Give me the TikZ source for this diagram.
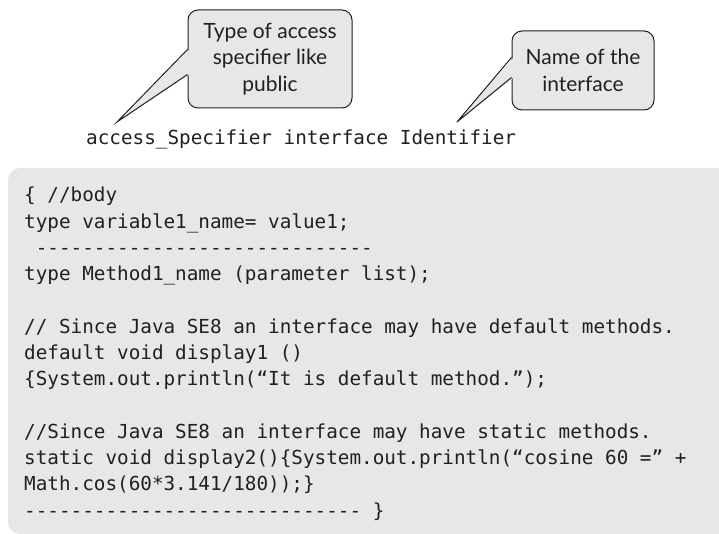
\documentclass[tikz,border=0pt]{standalone}
\usepackage{fontspec}
\setmonofont{DejaVu Sans Mono}
\newfontfamily\callfont{Lato}
\usetikzlibrary{calc}
\definecolor{codebg}{RGB}{230,231,232}
\definecolor{callfill}{RGB}{230,231,232}
\definecolor{ink}{RGB}{35,31,32}
\tikzset{
  codeline/.style={font=\ttfamily\fontsize{19.3}{26.25}\selectfont, anchor=base west, inner sep=0pt, text=ink},
  callbox/.style={draw=ink, line width=1pt, fill=callfill, rounded corners=10pt, align=center, inner sep=0pt,
    font=\callfont\fontsize{21}{26.5}\selectfont, text=ink},
  pointer/.style={draw=ink, line width=1pt, line join=miter},
}
\begin{document}
\begin{tikzpicture}[x=1pt,y=-1pt]
\useasboundingbox (0,0) rectangle (719,534);
\clip (0,0) rectangle (719,534);
% code box
\fill[codebg, rounded corners=12pt] (8,168) rectangle (760,534);
% callouts
\node[callbox, minimum width=164pt, minimum height=98pt] (c1) at (270,59) {Type of access\\specifier like\\public};
\node[callbox, minimum width=142pt, minimum height=79pt] (c2) at (583,70.5) {Name of the\\interface};
\coordinate (t1) at (117,122);
\coordinate (t2) at (457,122);
\fill[callfill] ($(c1.north west)+(2,40)$) -- (t1) -- ($(c1.north west)+(2,65)$) -- cycle;
\draw[pointer] ($(c1.north west)+(0,40)$) -- (t1) -- ($(c1.north west)+(0,65)$);
\fill[callfill] ($(c2.north west)+(2,27)$) -- (t2) -- ($(c2.north west)+(2,47)$) -- cycle;
\draw[pointer] ($(c2.north west)+(0,27)$) -- (t2) -- ($(c2.north west)+(0,47)$);
% header
\node[codeline] (hdr) at (86,145) {access\_Specifier interface Identifier};
% code lines
\node[codeline] (l1) at (24,202) {\{ //body};
\node[codeline] (l2) at (24,228.25) {type variable1\_name= value1;};
\node[codeline] (l3) at (24,254.5) {\phantom{-}-----------------------------};
\node[codeline] (l4) at (24,280.75) {type Method1\_name (parameter list);};
\node[codeline] (l6) at (24,333.25) {// Since Java SE8 an interface may have default methods.};
\node[codeline] (l7) at (24,359.5) {default void display1 ()};
\node[codeline] (l8) at (24,385.75) {\{System.out.println(“It is default method.”);};
\node[codeline] (l10) at (24,438.25) {//Since Java SE8 an interface may have static methods.};
\node[codeline] (l11) at (24,464.5) {static void display2()\{System.out.println(“cosine 60 =” +};
\node[codeline] (l12) at (24,490.75) {Math.cos(60*3.141/180));\}};
\node[codeline] (l13) at (24,517) {----------------------------- \}};
\end{tikzpicture}
\end{document}
